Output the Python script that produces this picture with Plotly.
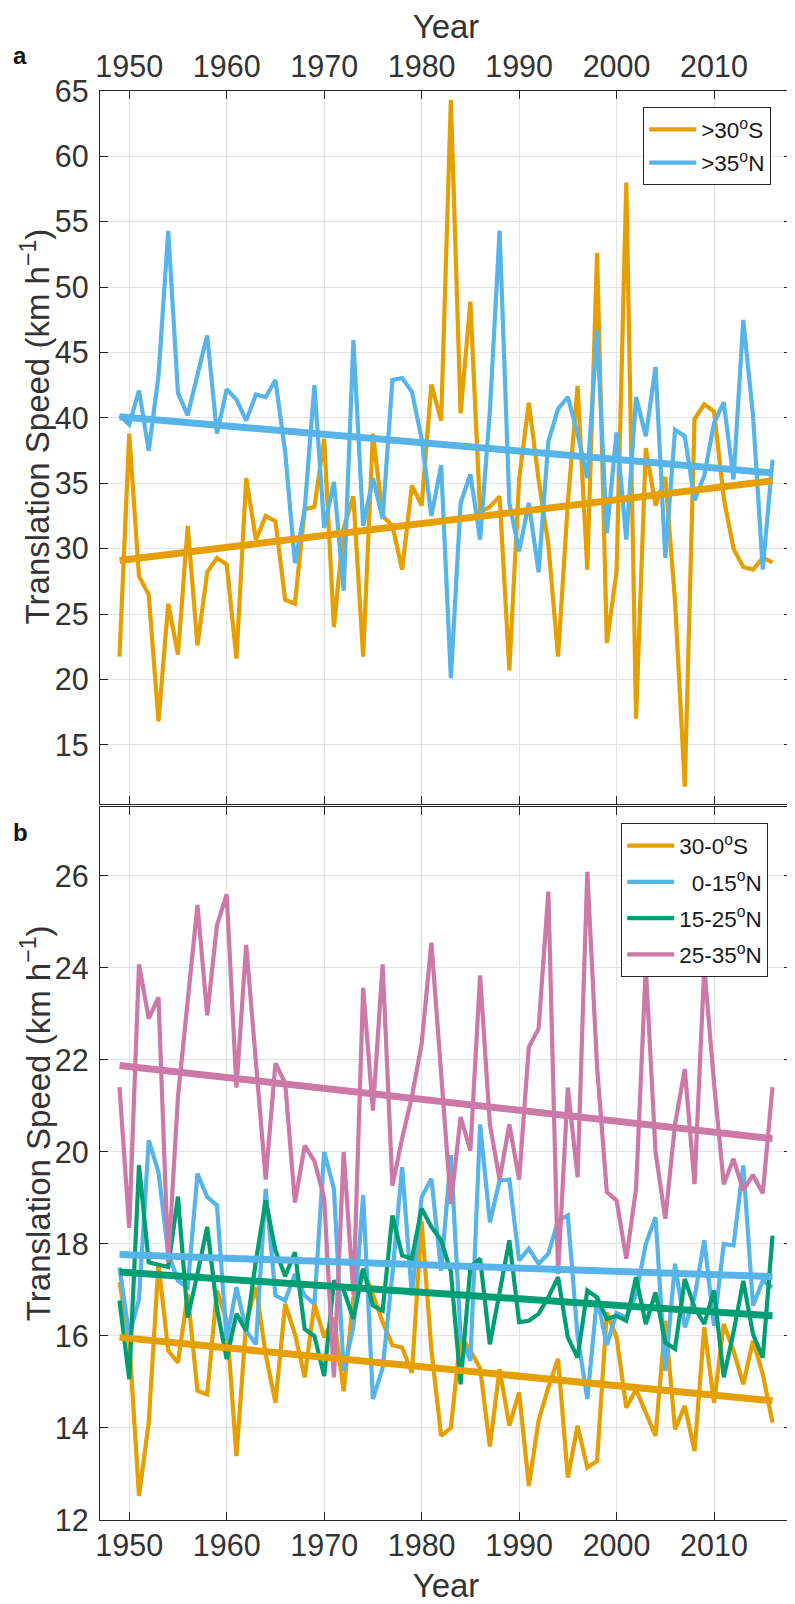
import plotly.graph_objects as go

# ---------------- data ----------------
years = list(range(1949, 2017))

# panel a
a_s30 = [21.75, 38.8, 27.9, 26.5, 16.8, 25.8, 21.9, 31.75, 22.6, 28.2,
         29.3, 28.8, 21.6, 35.4, 30.7, 32.5, 32.1, 26.1, 25.8, 33.0,
         33.2, 38.4, 24.0, 31.6, 34.0, 21.75, 38.8, 32.5, 31.75, 28.4,
         34.85, 33.3, 42.56, 39.8, 64.3, 40.35, 48.9, 32.8, 33.2, 34.0,
         20.7, 35.3, 41.16, 35.3, 30.3, 21.75, 33.5, 42.45, 28.4, 52.6,
         22.8, 28.25, 58.0, 17.0, 37.7, 33.3, 35.5, 26.0, 11.8, 39.9,
         41.05, 40.5, 33.86, 30.0, 28.6, 28.4, 29.3, 28.95]
a_n35 = [40.2, 39.5, 42.1, 37.5, 43.2, 54.3, 41.9, 40.2, 43.3, 46.3,
         38.8, 42.2, 41.4, 39.8, 41.8, 41.6, 42.9, 37.4, 28.9, 33.0,
         42.5, 31.6, 35.1, 26.8, 45.96, 31.75, 35.4, 32.3, 42.9, 43.05,
         42.0, 38.4, 32.5, 36.4, 20.1, 33.5, 35.7, 30.7, 40.5, 54.3,
         33.5, 29.8, 33.5, 28.2, 38.2, 40.7, 41.6, 38.8, 35.4, 46.7,
         31.2, 38.9, 30.7, 41.6, 38.6, 43.9, 29.3, 39.1, 38.6, 33.7,
         35.6, 39.6, 41.2, 35.3, 47.5, 40.2, 28.4, 36.8]
trend_years = [1949, 2016]
a_s30_trend = [29.1, 35.2]
a_n35_trend = [40.1, 35.8]

# panel b
b_s30_0 = [17.17, 15.9, 12.52, 14.12, 17.57, 15.68, 15.42, 16.91, 14.81, 14.73,
           16.99, 16.33, 13.39, 16.3, 17.06, 15.6, 14.55, 16.7, 16.04, 15.1,
           16.7, 15.97, 16.4, 14.8, 16.84, 17.46, 16.9, 16.3, 15.8, 15.75,
           15.2, 18.5, 15.7, 13.83, 14.0, 16.0, 15.68, 15.3, 13.6, 15.28,
           14.05, 14.77, 12.74, 14.16, 14.88, 15.5, 12.92, 14.05, 13.14, 13.28,
           16.51, 15.97, 14.44, 14.84, 14.33, 13.83, 16.33, 13.97, 14.48, 13.5,
           16.19, 14.55, 16.26, 15.68, 14.95, 15.9, 15.17, 14.12]
b_n0_15 = [17.49, 16.0, 16.8, 20.25, 19.56, 17.8, 17.2, 17.06, 19.53, 19.02,
           18.84, 15.9, 17.06, 16.11, 15.82, 19.2, 16.88, 16.77, 17.35, 16.88,
           16.7, 20.0, 19.2, 15.24, 16.2, 19.06, 14.63, 15.3, 17.35, 19.67,
           16.88, 19.02, 19.42, 17.42, 19.93, 16.0, 15.46, 20.6, 18.47, 19.38,
           19.4, 17.64, 17.9, 17.57, 17.79, 18.5, 18.62, 16.0, 14.63, 16.84,
           15.8, 16.5, 16.4, 16.9, 18.0, 18.58, 15.24, 17.57, 16.19, 16.84,
           18.08, 16.22, 18.0, 17.97, 19.71, 16.66, 17.2, 17.06]
b_n15_25 = [16.77, 15.06, 19.71, 17.6, 17.55, 17.5, 19.03, 16.4, 17.35, 18.37,
            16.6, 15.5, 16.48, 16.11, 17.64, 18.95, 17.86, 17.3, 17.82, 16.15,
            16.0, 15.13, 17.2, 17.0, 16.37, 17.46, 16.66, 16.55, 18.62, 17.75,
            17.68, 18.77, 18.37, 18.08, 17.4, 14.95, 17.5, 17.68, 15.82, 16.99,
            18.08, 16.3, 16.33, 16.48, 16.84, 17.28, 15.97, 15.53, 16.99, 16.84,
            16.37, 16.44, 16.33, 17.28, 16.26, 16.95, 15.86, 15.72, 17.24, 16.62,
            16.26, 16.99, 15.1, 16.08, 17.2, 16.04, 15.53, 18.18]
b_n25_35 = [21.41, 18.35, 24.08, 22.9, 23.36, 17.6, 21.2, 23.3, 25.37, 22.97,
            24.93, 25.6, 21.4, 24.5, 21.9, 19.4, 21.93, 21.5, 18.9, 20.14,
            19.8, 19.0, 15.1, 20.0, 16.9, 23.57, 20.9, 24.08, 19.27, 20.3,
            21.2, 22.35, 24.55, 21.6, 18.87, 20.76, 20.03, 23.84, 20.6, 19.4,
            20.6, 19.4, 22.28, 22.68, 25.66, 17.35, 21.4, 19.45, 26.09, 21.85,
            19.13, 18.95, 17.68, 19.2, 24.02, 20.0, 18.55, 20.6, 21.8, 19.3,
            24.02, 21.5, 19.3, 19.85, 19.16, 19.5, 19.1, 21.41]
b_s30_0_trend = [15.97, 14.59]
b_n0_15_trend = [17.77, 17.29]
b_n15_25_trend = [17.39, 16.44]
b_n25_35_trend = [21.88, 20.29]

x_ticks = [1950, 1960, 1970, 1980, 1990, 2000, 2010]
a_yticks = [15, 20, 25, 30, 35, 40, 45, 50, 55, 60, 65]
b_yticks = [12, 14, 16, 18, 20, 22, 24, 26]

# ---------------- style ----------------
ORANGE = '#E69F00'
BLUE = '#56B4E9'
GREEN = '#009E73'
PINK = '#CC79A7'
AX = '#262626'
TXT = '#333333'
FONT = 'Liberation Sans, Arial, sans-serif'
LW = 4.2
TW = 7.0

# page is offset by the default 8px body margin
OFF = 8
PAGE_W, PAGE_H = 795, 1604
W, H = PAGE_W - OFF, PAGE_H - OFF
# plot area in page coordinates
PX0, PX1 = 100, 792
PY_TOP, PY_BOT = 90.5, 1520
ML = PX0 - OFF
MR = W - (PX1 - OFF)
MT = PY_TOP - OFF
MB = H - (PY_BOT - OFF)
PW = W - ML - MR
PH = H - MT - MB


def yp(py):
    """page y -> paper fraction"""
    return ((PY_BOT) - py) / PH


def xp(px):
    """page x -> paper fraction"""
    return (px - PX0) / PW


fig = go.Figure()

# panel a lines
fig.add_trace(go.Scatter(x=years, y=a_s30, mode='lines', name='&gt;30<sup>o</sup>S',
                         line=dict(color=ORANGE, width=LW), xaxis='x2', yaxis='y2',
                         legend='legend', legendgroup='a1'))
fig.add_trace(go.Scatter(x=years, y=a_n35, mode='lines', name='&gt;35<sup>o</sup>N',
                         line=dict(color=BLUE, width=LW), xaxis='x2', yaxis='y2',
                         legend='legend', legendgroup='a2'))
fig.add_trace(go.Scatter(x=trend_years, y=a_s30_trend, mode='lines', showlegend=False,
                         line=dict(color=ORANGE, width=TW), xaxis='x2', yaxis='y2'))
fig.add_trace(go.Scatter(x=trend_years, y=a_n35_trend, mode='lines', showlegend=False,
                         line=dict(color=BLUE, width=TW), xaxis='x2', yaxis='y2'))

# panel b lines
b_series = [
    (b_s30_0, b_s30_0_trend, ORANGE, '30-0<sup>o</sup>S'),
    (b_n0_15, b_n0_15_trend, BLUE, '\u20070-15<sup>o</sup>N'),
    (b_n15_25, b_n15_25_trend, GREEN, '15-25<sup>o</sup>N'),
    (b_n25_35, b_n25_35_trend, PINK, '25-35<sup>o</sup>N'),
]
for i, (vals, tr, col, nm) in enumerate(b_series):
    fig.add_trace(go.Scatter(x=years, y=vals, mode='lines', name=nm,
                             line=dict(color=col, width=LW), xaxis='x', yaxis='y',
                             legend='legend2', legendgroup='b%d' % i))
for vals, tr, col, nm in b_series:
    fig.add_trace(go.Scatter(x=trend_years, y=tr, mode='lines', showlegend=False,
                             line=dict(color=col, width=TW), xaxis='x', yaxis='y'))

axis_common = dict(showline=True, linecolor=AX, linewidth=1.2, mirror='ticks',
                   ticks='inside', ticklen=8, tickwidth=1.2, tickcolor=AX,
                   showgrid=True, gridcolor='#e4e4e4', gridwidth=1, zeroline=False,
                   tickfont=dict(family=FONT, size=30.5, color=TXT))

title_font = dict(family=FONT, size=33, color=TXT)

fig.update_layout(
    width=W, height=H,
    margin=dict(l=ML, r=MR, t=MT, b=MB, pad=0, autoexpand=False),
    paper_bgcolor='white', plot_bgcolor='white',
    font=dict(family=FONT, color=TXT),
    xaxis=dict(axis_common, domain=[0, 1], range=[1947, 2018], tickvals=x_ticks,
               anchor='y', side='bottom', ticklabelstandoff=-2,
               title=dict(text='Year', font=title_font, standoff=14)),
    xaxis2=dict(axis_common, domain=[0, 1], range=[1947, 2018], tickvals=x_ticks,
                anchor='y2', side='top', ticklabelstandoff=1,
                title=dict(text='Year', font=title_font, standoff=4)),
    yaxis=dict(axis_common, domain=[0, yp(806.7)], range=[12, 27.5], tickvals=b_yticks,
               anchor='x', ticklabelstandoff=4),
    yaxis2=dict(axis_common, domain=[yp(803.5), 1], range=[10.5, 65], tickvals=a_yticks,
                anchor='x2', ticklabelstandoff=4),
    legend=dict(x=xp(643), y=yp(106.5), xanchor='left', yanchor='top',
                bgcolor='white', bordercolor=AX, borderwidth=1.2,
                font=dict(family=FONT, size=22.5, color='#1a1a1a'),
                itemwidth=47, tracegroupgap=1),
    legend2=dict(x=xp(621), y=yp(823), xanchor='left', yanchor='top',
                 bgcolor='white', bordercolor=AX, borderwidth=1.2,
                 font=dict(family=FONT, size=22.5, color='#1a1a1a'),
                 itemwidth=47, tracegroupgap=4),
    annotations=[
        dict(text='<b>a</b>', xref='paper', yref='paper', x=xp(20), y=yp(55),
             xanchor='center', yanchor='middle', showarrow=False,
             font=dict(family=FONT, size=24, color='#111111')),
        dict(text='<b>b</b>', xref='paper', yref='paper', x=xp(20), y=yp(832),
             xanchor='center', yanchor='middle', showarrow=False,
             font=dict(family=FONT, size=24, color='#111111')),
        dict(text='Translation Speed (km h<sup>\u22121</sup>)', xref='paper', yref='paper',
             x=xp(36), y=yp(426), xanchor='center', yanchor='middle', textangle=-90,
             showarrow=False, font=title_font),
        dict(text='Translation Speed (km h<sup>\u22121</sup>)', xref='paper', yref='paper',
             x=xp(36), y=yp(1123), xanchor='center', yanchor='middle', textangle=-90,
             showarrow=False, font=title_font),
    ],
)

fig.write_html('out.html')
